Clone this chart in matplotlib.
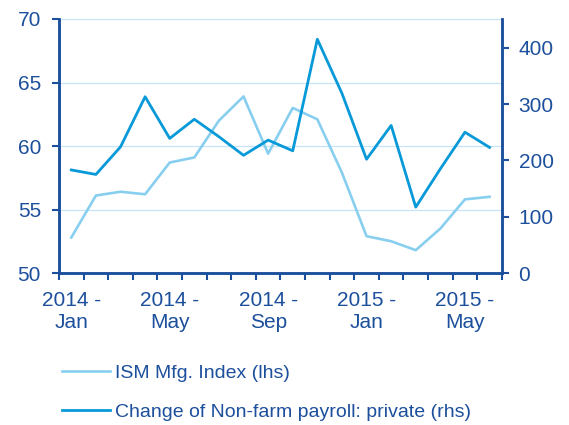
import numpy as np
import matplotlib
matplotlib.use("Agg")
import matplotlib.pyplot as plt

plt.rcParams["font.family"] = ["Liberation Sans", "DejaVu Sans"]

# monthly, Jan 2014 .. Jun 2015
months = ["2014 -\nJan", "", "", "", "2014 -\nMay", "", "", "", "2014 -\nSep", "", "", "",
          "2015 -\nJan", "", "", "", "2015 -\nMay", ""]
ism = [52.8, 56.1, 56.4, 56.2, 58.7, 59.1, 62.0, 63.9, 59.4, 63.0, 62.1, 57.9,
       52.9, 52.5, 51.8, 53.5, 55.8, 56.0]
payroll = [183, 175, 224, 313, 239, 273, 242, 209, 236, 217, 415, 319,
           202, 262, 117, 185, 250, 223]

C_ISM = "#88cfef"
C_PAY = "#0899d8"
C_AX = "#1c4f9c"
C_TXT = "#1c4f9c"
C_GRID = "#c4e6f6"

fig = plt.figure(figsize=(5.69, 4.25), dpi=100)
ax = fig.add_axes([0.1037, 0.3576, 0.7783, 0.5977])
ax2 = ax.twinx()

x = np.arange(len(ism))
l1, = ax.plot(x, ism, color=C_ISM, lw=1.9, label="ISM Mfg. Index (lhs)")
l2, = ax2.plot(x, payroll, color=C_PAY, lw=2.0, label="Change of Non-farm payroll: private (rhs)")

ax.set_xlim(-0.5, len(ism) - 0.5)
ax.set_ylim(50, 70)
ax.set_yticks([50, 55, 60, 65, 70])
ax2.set_ylim(0, 451)
ax2.set_yticks([0, 100, 200, 300, 400])

for yv in [55, 60, 65, 70]:
    ax.axhline(yv, color=C_GRID, lw=0.9, zorder=0)

ax.set_xticks(x[::4])
ax.set_xticklabels([m for m in months if m])
ax.set_xticks(np.arange(-0.5, len(ism)), minor=True)
ax.tick_params(axis="x", which="major", length=0, pad=13, labelsize=15, labelcolor=C_TXT)
ax.tick_params(axis="x", which="minor", length=5, width=1.5, color=C_AX)
ax.tick_params(axis="y", length=5, width=1.5, color=C_AX, pad=8, labelsize=15, labelcolor=C_TXT)
ax2.tick_params(axis="y", length=5, width=1.5, color=C_AX, pad=7, labelsize=15, labelcolor=C_TXT)

for a in (ax, ax2):
    a.spines["top"].set_visible(False)
    for s in ("left", "right", "bottom"):
        a.spines[s].set_color(C_AX)
        a.spines[s].set_linewidth(1.8)

fig.legend(handles=[l1, l2], loc="upper left", bbox_to_anchor=(0.109, 0.143),
           frameon=False, fontsize=14, labelcolor=C_TXT, handlelength=2.45,
           handletextpad=0.3, labelspacing=1.12, borderaxespad=0, borderpad=0)

fig.savefig("out.png", dpi=100)
